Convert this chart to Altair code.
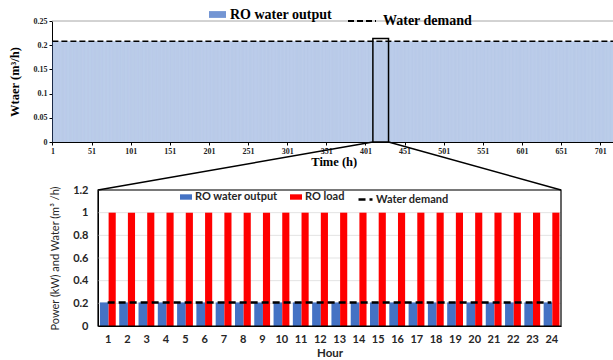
import altair as alt
import pandas as pd

# ---------------- data ----------------
top_hours = list(range(1, 721))
top_ro_output = [0.208] * 720
top_water_demand = [0.208] * 720
top_x_ticks = [1, 51, 101, 151, 201, 251, 301, 351, 401, 451, 501, 551, 601, 651, 701]
top_y_ticks = [0, 0.05, 0.1, 0.15, 0.2, 0.25]
zoom_start_hour = 410.5
zoom_end_hour = 430.5
zoom_box_top = 0.214

day_hours = [1, 2, 3, 4, 5, 6, 7, 8, 9, 10, 11, 12, 13, 14, 15, 16, 17, 18, 19, 20, 21, 22, 23, 24]
day_ro_output = [0.208, 0.208, 0.208, 0.208, 0.208, 0.208, 0.208, 0.208, 0.208, 0.208, 0.208, 0.208,
                 0.208, 0.208, 0.208, 0.208, 0.208, 0.208, 0.208, 0.208, 0.208, 0.208, 0.208, 0.208]
day_ro_load = [1, 1, 1, 1, 1, 1, 1, 1, 1, 1, 1, 1, 1, 1, 1, 1, 1, 1, 1, 1, 1, 1, 1, 1]
day_water_demand = [0.208, 0.208, 0.208, 0.208, 0.208, 0.208, 0.208, 0.208, 0.208, 0.208, 0.208, 0.208,
                    0.208, 0.208, 0.208, 0.208, 0.208, 0.208, 0.208, 0.208, 0.208, 0.208, 0.208, 0.208]
day_y_ticks = [0, 0.2, 0.4, 0.6, 0.8, 1, 1.2]

# ---------------- layout ----------------
W, H = 613, 360
TOP_XD, TOP_XR = [0.5, 720.5], [52, 615.5]
TOP_YD, TOP_YR = [0, 0.25], [142, 21]
BOT_XD, BOT_XR = [0.5, 24.5], [98, 561]
BOT_YD, BOT_YR = [0, 1.2], [326, 190]

SERIF = "Liberation Serif"
SANS = "Lato"


def lin(v, d, r):
    return r[0] + (v - d[0]) / (d[1] - d[0]) * (r[1] - r[0])


def tx():
    return alt.Scale(domain=TOP_XD, range=TOP_XR, nice=False, zero=False)


def ty():
    return alt.Scale(domain=TOP_YD, range=TOP_YR, nice=False, zero=False)


def bx():
    return alt.Scale(domain=BOT_XD, range=BOT_XR, nice=False, zero=False)


def by():
    return alt.Scale(domain=BOT_YD, range=BOT_YR, nice=False, zero=False)


# ---------------- top panel ----------------
top_df = pd.DataFrame({
    "hour": top_hours,
    "output": top_ro_output,
    "demand": top_water_demand,
    "series": "RO water output",
    "dseries": "Water demand",
})

top_bars = alt.Chart(top_df).transform_calculate(
    x0="datum.hour - 0.5", x1="datum.hour + 0.5", base="0"
).mark_rect(fillOpacity=0.4, strokeWidth=0).encode(
    x=alt.X("x0:Q", scale=tx(), axis=alt.Axis(
        orient="bottom", offset=TOP_YR[0] - H, values=top_x_ticks, format="d",
        labelFont=SERIF, labelFontWeight="bold", labelFontSize=8, labelColor="#222",
        tickSize=3, tickColor="black", domainColor="black", grid=False, labelFlush=False,
        title="Time (h)", titleFont=SERIF, titleFontWeight="bold", titleFontSize=12.5,
        titleColor="black", titlePadding=0)),
    x2="x1:Q",
    y=alt.Y("output:Q", scale=ty(), axis=alt.Axis(
        orient="left", offset=-TOP_XR[0], values=top_y_ticks, format=".2~f",
        labelFont=SERIF, labelFontWeight="bold", labelFontSize=8, labelColor="#222",
        tickSize=3, tickColor="black", domainColor="black", grid=False, labelFlush=False,
        title="Wtaer (m³/h)", titleFont=SERIF, titleFontWeight="bold", titleFontSize=12.5,
        titleColor="black", titlePadding=12)),
    y2="base:Q",
    color=alt.Color("series:N", scale=alt.Scale(domain=["RO water output"], range=["#4472c4"]),
                    legend=alt.Legend(orient="none", legendX=209, legendY=6, direction="horizontal",
                                      title=None, padding=0, labelFont=SERIF, labelFontWeight="bold",
                                      labelFontSize=14, labelColor="black", labelOffset=4,
                                      symbolType="M-1,-0.4H1V0.4H-1Z", symbolSize=289,
                                      symbolOpacity=0.75, symbolStrokeWidth=0)),
)

top_line = alt.Chart(top_df).mark_line(stroke="black", strokeWidth=1.5).encode(
    x=alt.X("hour:Q", scale=tx(), axis=None),
    y=alt.Y("demand:Q", scale=ty(), axis=None),
    strokeDash=alt.StrokeDash("dseries:N", scale=alt.Scale(domain=["Water demand"], range=[[6, 3]]),
                              legend=alt.Legend(orient="none", legendX=347, legendY=6, direction="horizontal",
                                                title=None, padding=0, labelFont=SERIF, labelFontWeight="bold",
                                                labelFontSize=14, labelColor="black", labelOffset=6,
                                                symbolType="stroke", symbolSize=784,
                                                symbolStrokeColor="black", symbolStrokeWidth=2)),
)

top_frame_df = pd.DataFrame({"x0": [TOP_XD[0]], "x1": [TOP_XD[1]], "y": [TOP_YD[1]]})
top_border = alt.Chart(top_frame_df).mark_rule(color="#a6a6a6", strokeWidth=1).encode(
    x=alt.X("x0:Q", scale=tx(), axis=None), x2="x1:Q",
    y=alt.Y("y:Q", scale=ty(), axis=None),
)

zoom_df = pd.DataFrame({"s": [zoom_start_hour], "e": [zoom_end_hour], "t": [zoom_box_top], "b": [0]})
zoom_box = alt.Chart(zoom_df).mark_rect(fillOpacity=0, stroke="black", strokeWidth=1.5).encode(
    x=alt.X("s:Q", scale=tx(), axis=None), x2="e:Q",
    y=alt.Y("t:Q", scale=ty(), axis=None), y2="b:Q",
)

# ---------------- bottom panel ----------------
bot_df = pd.DataFrame({
    "hour": day_hours,
    "RO water output": day_ro_output,
    "RO load": day_ro_load,
    "demand": day_water_demand,
    "dseries": "Water demand",
})

grid_df = pd.DataFrame({"g": day_y_ticks[1:], "x0": BOT_XD[0], "x1": BOT_XD[1]})
bot_grid = alt.Chart(grid_df).mark_rule(color="#e3e3e3", strokeWidth=1).encode(
    x=alt.X("x0:Q", scale=bx(), axis=None), x2="x1:Q",
    y=alt.Y("g:Q", scale=by(), axis=None),
)

bot_bars = alt.Chart(bot_df).transform_fold(
    ["RO water output", "RO load"], as_=["series", "value"]
).transform_calculate(
    x0="datum.hour - 0.5 + (datum.series == 'RO load' ? 0.55 : 0.1)",
    x1="datum.hour - 0.5 + (datum.series == 'RO load' ? 0.92 : 0.55)",
    base="0",
).mark_rect(strokeWidth=0).encode(
    x=alt.X("x0:Q", scale=bx(), axis=alt.Axis(
        orient="bottom", offset=BOT_YR[0] - H, values=day_hours, format="d",
        labelFont=SANS, labelFontWeight="bold", labelFontSize=11, labelColor="#262626",
        ticks=False, labelPadding=7, domainColor="black", grid=False, labelFlush=False,
        title="Hour", titleFont=SANS, titleFontWeight="bold", titleFontSize=11.5,
        titleColor="#262626", titlePadding=3)),
    x2="x1:Q",
    y=alt.Y("value:Q", scale=by(), axis=alt.Axis(
        orient="left", offset=-BOT_XR[0], values=day_y_ticks, format=".1~f",
        labelFont=SANS, labelFontWeight="bold", labelFontSize=11, labelColor="#262626",
        ticks=False, labelPadding=10, domainColor="black", grid=False, labelFlush=False,
        title="Power (kW) and Water (m³ /h)", titleFont=SANS, titleFontWeight="normal",
        titleFontSize=11, titleColor="#262626", titlePadding=12)),
    y2="base:Q",
    color=alt.Color("series:N",
                    scale=alt.Scale(domain=["RO water output", "RO load"], range=["#4472c4", "#ff0000"]),
                    legend=alt.Legend(orient="none", legendX=180, legendY=191, direction="horizontal",
                                      title=None, padding=0, labelFont=SANS, labelFontWeight="bold",
                                      labelFontSize=11, labelColor="#262626", labelOffset=3,
                                      columnPadding=12, symbolType="M-1,-0.45H1V0.45H-1Z",
                                      symbolSize=144, symbolStrokeWidth=0)),
)

bot_line = alt.Chart(bot_df).mark_line(stroke="black", strokeWidth=2.5).encode(
    x=alt.X("hour:Q", scale=bx(), axis=None),
    y=alt.Y("demand:Q", scale=by(), axis=None),
    strokeDash=alt.StrokeDash("dseries:N", scale=alt.Scale(domain=["Water demand"], range=[[7, 4]]),
                              legend=alt.Legend(orient="none", legendX=357, legendY=191, direction="horizontal",
                                                title=None, padding=0, labelFont=SANS, labelFontWeight="bold",
                                                labelFontSize=11, labelColor="#262626", labelOffset=2,
                                                symbolType="stroke", symbolSize=196,
                                                symbolStrokeColor="black", symbolStrokeWidth=2.5)),
)

frame_df = pd.DataFrame({"x0": [BOT_XD[0]], "x1": [BOT_XD[1]], "y0": [BOT_YD[0]], "y1": [BOT_YD[1]]})
bot_frame = alt.Chart(frame_df).mark_rect(fillOpacity=0, stroke="black", strokeWidth=1.2).encode(
    x=alt.X("x0:Q", scale=bx(), axis=None), x2="x1:Q",
    y=alt.Y("y0:Q", scale=by(), axis=None), y2="y1:Q",
)

# ---------------- connectors (zoom window -> day panel) ----------------
conn_df = pd.DataFrame({
    "x": [lin(zoom_start_hour, TOP_XD, TOP_XR), lin(zoom_end_hour, TOP_XD, TOP_XR)],
    "y": [lin(0, TOP_YD, TOP_YR), lin(0, TOP_YD, TOP_YR)],
    "x2": [lin(BOT_XD[0], BOT_XD, BOT_XR), lin(BOT_XD[1], BOT_XD, BOT_XR)],
    "y2": [lin(BOT_YD[1], BOT_YD, BOT_YR), lin(BOT_YD[1], BOT_YD, BOT_YR)],
})
connectors = alt.Chart(conn_df).mark_rule(color="black", strokeWidth=1.5).encode(
    x=alt.X("x:Q", scale=None, axis=None), x2="x2:Q",
    y=alt.Y("y:Q", scale=None, axis=None), y2="y2:Q",
)

chart = alt.layer(
    top_bars, top_line, top_border, zoom_box,
    bot_grid, bot_bars, bot_line, bot_frame,
    connectors,
).resolve_scale(
    x="independent", y="independent", color="independent", strokeDash="independent"
).resolve_axis(
    x="independent", y="independent"
).resolve_legend(
    color="independent", strokeDash="independent"
).properties(
    width=W, height=H, padding=0, autosize=alt.AutoSizeParams(type="none"),
    background="white",
).configure_view(stroke=None)

chart.save("out.html", embed_options={"renderer": "svg", "actions": False})
